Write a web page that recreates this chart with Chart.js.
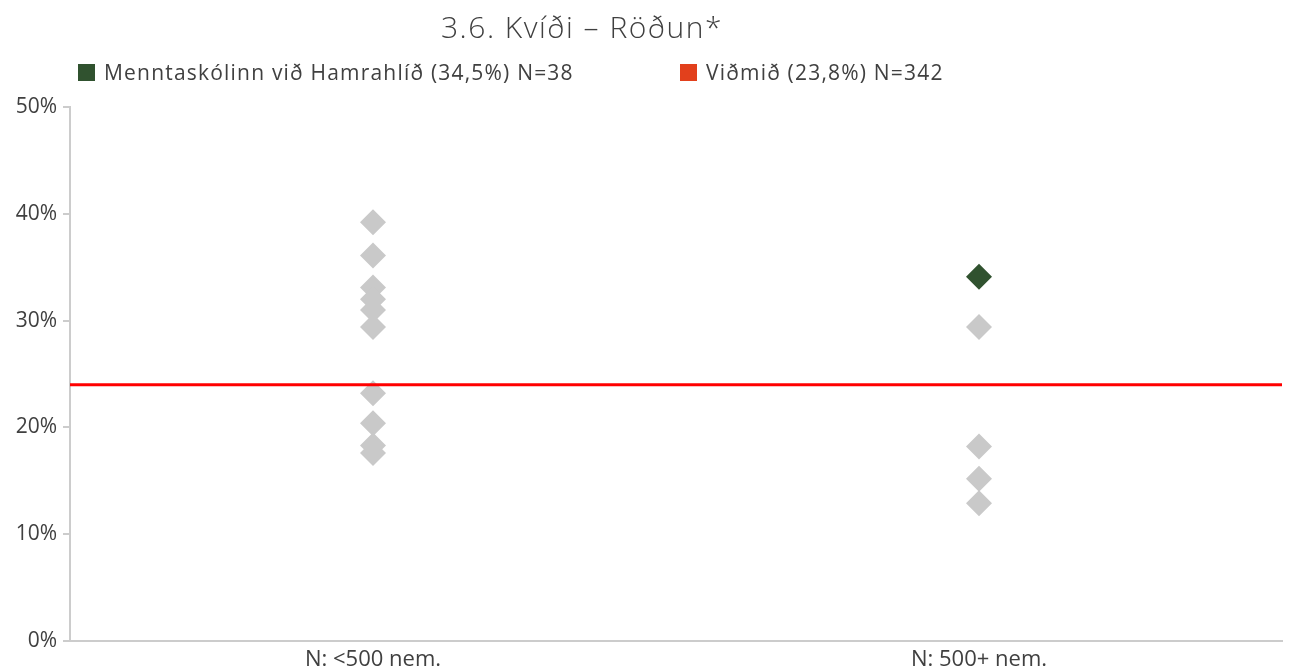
<!DOCTYPE html>
<html>
<head>
<meta charset="utf-8">
<script src="https://cdn.jsdelivr.net/npm/chart.js@4"></script>
<style>
    body { margin: 0; background: #fff; }
    #wrap { position: relative; width: 1295px; height: 670px; }
    #title { position: absolute; left: 441px; top: 6px; font: 300 30px "Open Sans", sans-serif; letter-spacing: 1.5px; color: #404040; white-space: nowrap; }
    .leg { position: absolute; top: 58px; font: 21px "Open Sans", sans-serif; letter-spacing: 1.2px; color: #404040; white-space: nowrap; }
    .leg span { display: inline-block; width: 17px; height: 17px; margin-right: 9px; vertical-align: -1px; }
</style>
</head>
<body>
<div id="wrap">
    <div id="title">3.6. Kvíði – Röðun*</div>
    <div class="leg" id="leg1" style="left:78px"></div>
    <div class="leg" id="leg2" style="left:680px"></div>
    <canvas id="chart" width="1295" height="670"></canvas>
</div>
<script>
const categories = ['N: <500 nem.', 'N: 500+ nem.'];
const smallSchools = [39.2, 36.1, 33.1, 32.0, 31.0, 29.4, 23.2, 20.4, 18.3, 17.6];
const largeSchools = [29.4, 18.2, 15.2, 12.9];
const schoolName = 'Menntaskólinn við Hamrahlíð (34,5%) N=38';
const schoolValue = 34.1;
const schoolCategory = 1;
const benchmarkName = 'Viðmið (23,8%) N=342';
const benchmarkValue = 24.0;
const yTicks = [0, 10, 20, 30, 40, 50];

const grey = '#c9c9c9';
const green = '#30522f';
const red = '#ff0000';

// html legend, spaced like the original
document.getElementById('leg1').innerHTML = `<span style="background:${green}"></span>${schoolName}`;
document.getElementById('leg2').innerHTML = `<span style="background:#e2401c"></span>${benchmarkName}`;

const others = [
    ...smallSchools.map(v => ({ x: categories[0], y: v })),
    ...largeSchools.map(v => ({ x: categories[1], y: v }))
];

new Chart(document.getElementById('chart'), {
    type: 'line',
    data: {
        labels: categories,
        datasets: [
            {
                label: benchmarkName,
                data: [{ x: 0, y: benchmarkValue }, { x: 1, y: benchmarkValue }],
                xAxisID: 'x2',
                borderColor: red,
                borderWidth: 3,
                pointRadius: 0,
                order: 0
            },
            {
                label: schoolName,
                data: [{ x: categories[schoolCategory], y: schoolValue }],
                showLine: false,
                pointStyle: 'rectRot',
                pointRadius: 13,
                pointBackgroundColor: green,
                pointBorderWidth: 0,
                order: 1
            },
            {
                label: 'Aðrir skólar',
                data: others,
                showLine: false,
                pointStyle: 'rectRot',
                pointRadius: 13,
                pointBackgroundColor: grey,
                pointBorderWidth: 0,
                order: 2
            }
        ]
    },
    options: {
        responsive: false,
        animation: false,
        layout: { padding: { top: 107, right: 10, left: 0, bottom: 0 } },
        plugins: {
            legend: { display: false },
            tooltip: { enabled: false }
        },
        scales: {
            x: {
                type: 'category',
                offset: true,
                afterFit: s => { s.height = 29; },
                grid: { display: false, drawTicks: false },
                border: { display: true, color: '#cccccc', width: 2 },
                ticks: {
                    padding: 8,
                    color: '#404040',
                    font: { family: '"Open Sans", sans-serif', size: 22, lineHeight: 1 }
                }
            },
            x2: {
                type: 'linear',
                display: false,
                min: 0,
                max: 1
            },
            y: {
                min: yTicks[0],
                max: yTicks[yTicks.length - 1],
                afterFit: s => { s.width = 70; },
                afterBuildTicks: s => { s.ticks = yTicks.map(v => ({ value: v })); },
                grid: { drawOnChartArea: false, drawTicks: true, tickLength: 7, color: '#cccccc', lineWidth: 2 },
                border: { display: true, color: '#cccccc', width: 2 },
                ticks: {
                    padding: 6,
                    color: '#404040',
                    font: { family: '"Open Sans", sans-serif', size: 21 },
                    callback: v => v + '%'
                }
            }
        }
    }
});
</script>
</body>
</html>
